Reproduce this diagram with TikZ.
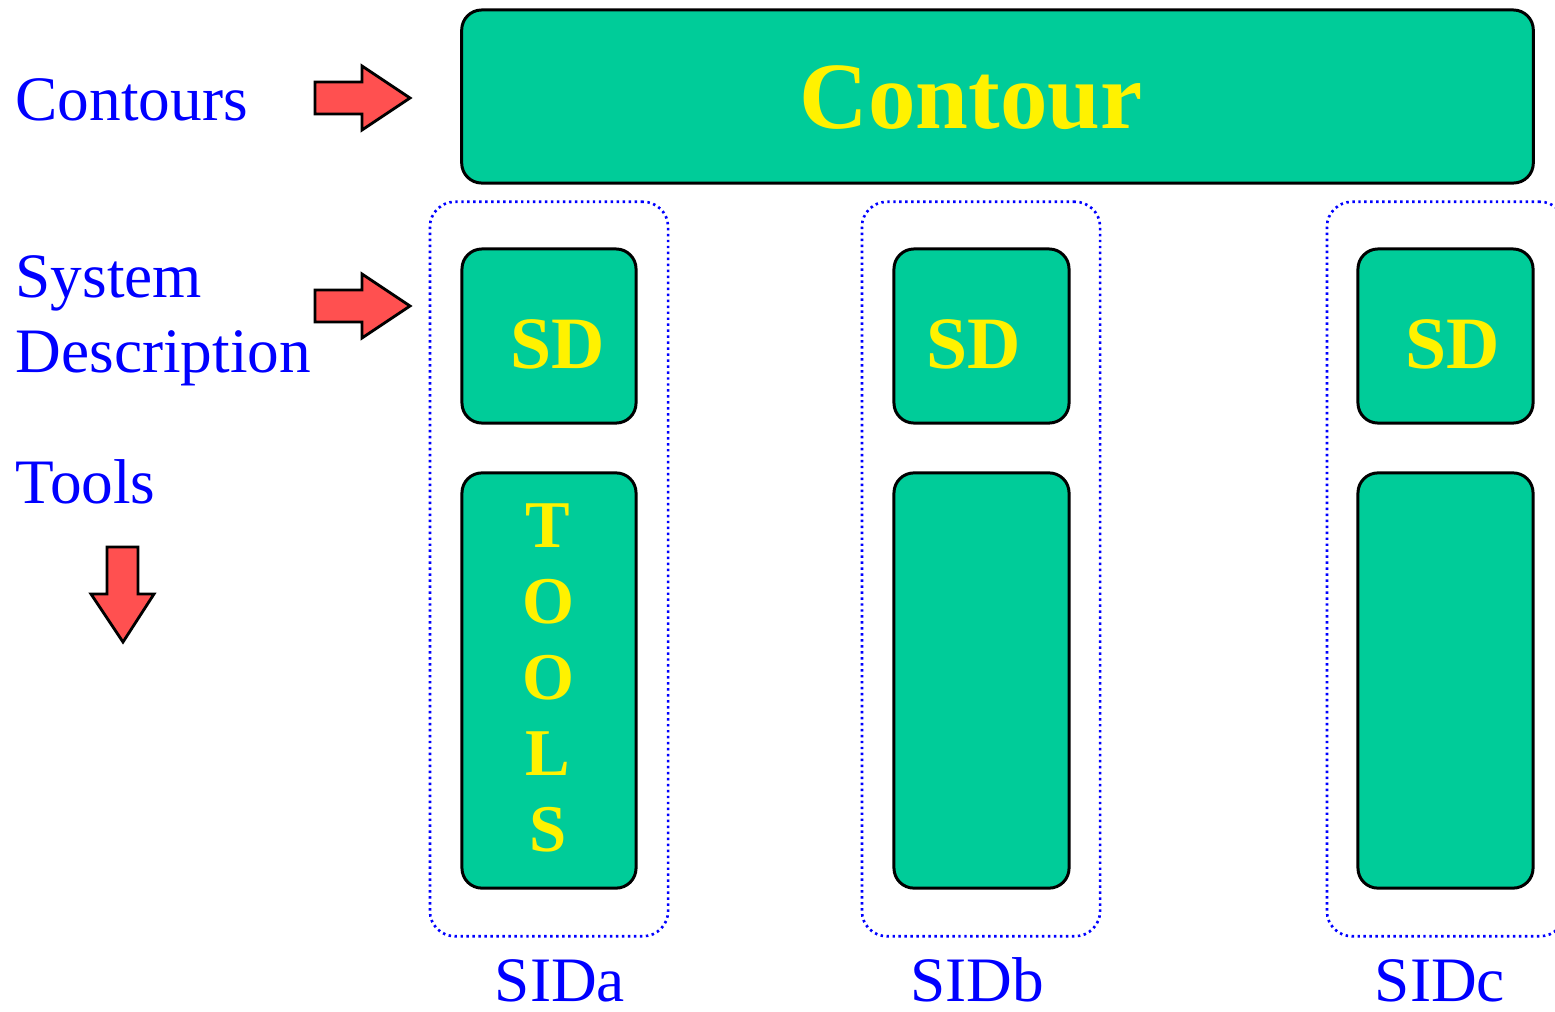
\documentclass[tikz,border=0pt]{standalone}
\usepackage{fontspec}
\setmainfont{Liberation Serif}
\usetikzlibrary{positioning}
\definecolor{boxgreen}{HTML}{00CC99}
\definecolor{arrowred}{HTML}{FF5050}
\tikzset{
        % Green boxes
        node_box/.style={rectangle, rounded corners=0.2cm, draw=black, line width=0.85pt, fill=boxgreen, inner sep=0pt},
        % Dotted groups
        node_group/.style={rectangle, rounded corners=0.25cm, draw=blue, line width=0.75pt, dash pattern=on 0.7pt off 1pt, minimum width=2.38cm, minimum height=7.34cm, inner sep=0pt},
        % Yellow box texts
        text_box/.style={inner sep=0pt, text=yellow, font=\bfseries},
        % Blue labels
        text_label/.style={inner sep=0pt, text=blue, font=\fontsize{18}{21.3}\selectfont},
        % Block arrows
        block_arrow/.style={draw=black, line width=0.8pt, fill=arrowred, line join=miter}
}
\begin{document}
\begin{tikzpicture}[x=0.01cm, y=-0.01cm]
    \useasboundingbox (0,0) rectangle (1555,1011);
    % groups
    \node[node_group] (group_a) at (549,569) {};
    \node[node_group] (group_b) at (981,569) {};
    \node[node_group] (group_c) at (1446,569) {};
    % boxes
    \node[node_box, minimum width=10.71cm, minimum height=1.73cm] (contour) at (997.5,96.5) {};
    \node[node_box, minimum width=1.74cm, minimum height=1.74cm] (sd_a) at (549,336) {};
    \node[node_box, minimum width=1.75cm, minimum height=1.74cm] (sd_b) at (981.5,336) {};
    \node[node_box, minimum width=1.75cm, minimum height=1.74cm] (sd_c) at (1445.5,336) {};
    \node[node_box, minimum width=1.74cm, minimum height=4.15cm] (tools_a) at (549,680.5) {};
    \node[node_box, minimum width=1.75cm, minimum height=4.15cm] (tools_b) at (981.5,680.5) {};
    \node[node_box, minimum width=1.75cm, minimum height=4.15cm] (tools_c) at (1445.5,680.5) {};
    % box texts
    \node[text_box, font=\bfseries\fontsize{27}{30}\selectfont, anchor=base] (contour_text) at (971,128) {Contour};
    \node[text_box, font=\bfseries\fontsize{21}{24}\selectfont, anchor=base] (sd_a_text) at (558,368) {SD};
    \node[text_box, font=\bfseries\fontsize{21}{24}\selectfont, anchor=base] (sd_b_text) at (974,368) {SD};
    \node[text_box, font=\bfseries\fontsize{21}{24}\selectfont, anchor=base] (sd_c_text) at (1453,368) {SD};
    \node[text_box, font=\bfseries\fontsize{19}{21.6}\selectfont, align=center, anchor=north] (tools_text) at (548,503) {T\\O\\O\\L\\S};
    % left labels
    \node[text_label, anchor=base west] (lbl_contours) at (15,120) {Contours};
    \node[text_label, anchor=base west, align=left] (lbl_system) at (15,372) {System\\Description};
    \node[text_label, anchor=base west] (lbl_tools) at (15,503) {Tools};
    % bottom labels
    \node[text_label, anchor=base] (sid_a) at (560,1001) {SIDa};
    \node[text_label, anchor=base] (sid_b) at (977,1001) {SIDb};
    \node[text_label, anchor=base] (sid_c) at (1440,1001) {SIDc};
    % arrows
    \draw[block_arrow] (315,82) -- (362,82) -- (362,66) -- (410,98) -- (362,130) -- (362,114) -- (315,114) -- cycle;
    \draw[block_arrow] (315,290) -- (362,290) -- (362,274) -- (410,306) -- (362,338) -- (362,322) -- (315,322) -- cycle;
    \draw[block_arrow] (107,547) -- (138,547) -- (138,594) -- (154,594) -- (123,642) -- (91,594) -- (107,594) -- cycle;
\end{tikzpicture}
\end{document}
